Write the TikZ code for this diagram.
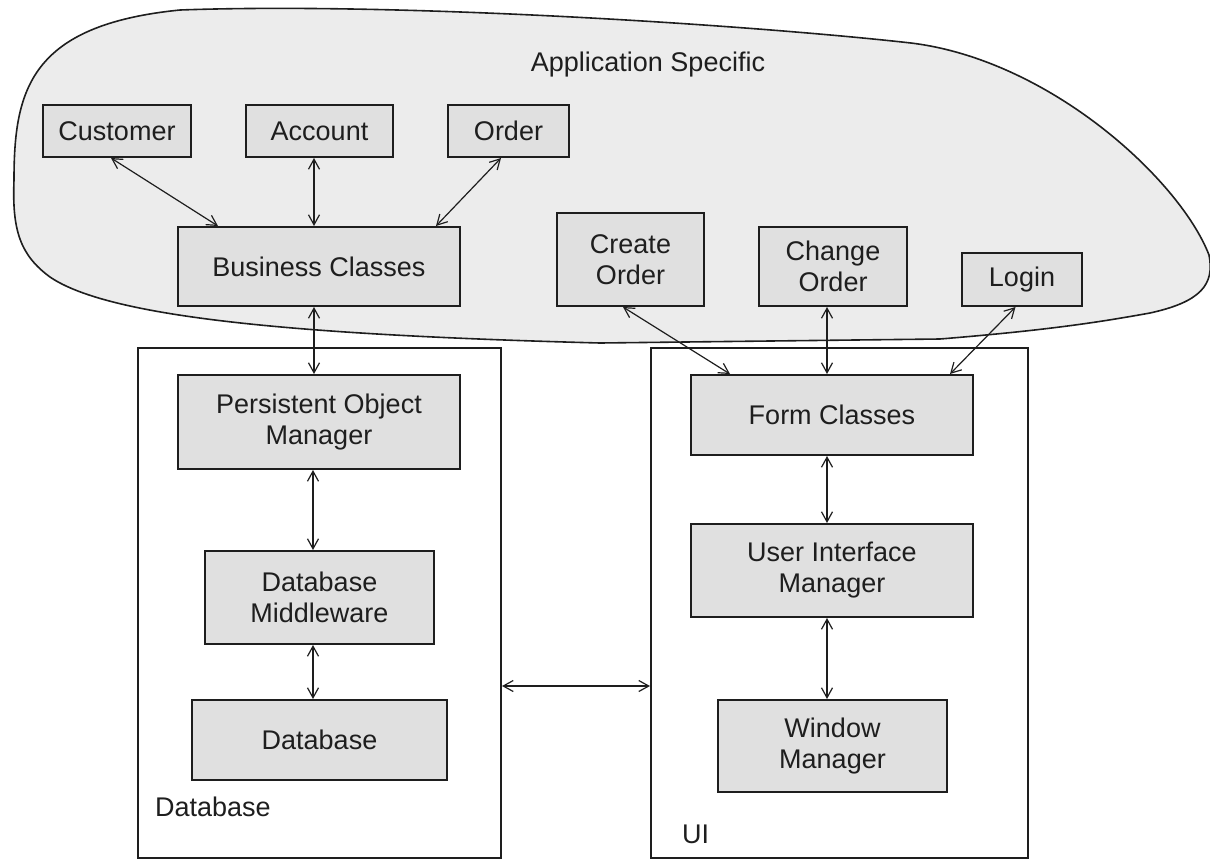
\documentclass[tikz,border=0pt]{standalone}
\usepackage{fontspec}
\setmainfont{Liberation Sans}
\usetikzlibrary{arrows.meta}
\definecolor{blobfill}{RGB}{236,236,236}
\definecolor{boxfill}{RGB}{224,224,224}
\definecolor{ink}{RGB}{30,30,30}
\begin{document}
\begin{tikzpicture}[x=1pt,y=-1pt,
  every node/.style={font=\fontsize{27}{31}\selectfont, text=ink},
  compbox/.style={draw=ink, line width=2pt, fill=boxfill, inner sep=0pt, align=center},
  container/.style={draw=ink, line width=2pt, inner sep=0pt},
  link/.style={draw=ink, line width=1.2pt, {Straight Barb[length=10pt,width=11pt]}-{Straight Barb[length=10pt,width=11pt]}},
  plain/.style={inner sep=0pt, anchor=west}
]
\useasboundingbox (0,0) rectangle (1210,860);
% application specific blob
\draw[draw=ink, line width=1.6pt, fill=blobfill]
  (14,180) .. controls (14,90) and (30,25) .. (180,10)
  .. controls (400,2) and (750,25) .. (911,43)
  .. controls (1050,60) and (1180,180) .. (1209,255)
  .. controls (1215,285) and (1200,302) .. (1150,313)
  .. controls (1100,322) and (1050,330) .. (940,339)
  -- (600,343)
  .. controls (300,335) and (110,318) .. (50,277)
  .. controls (20,255) and (12,230) .. cycle;
\node (apptitle) at (648,65) {Application Specific};

% containers
\node[container, minimum width=363pt, minimum height=510pt] (dbc) at (319.5,603) {};
\node[container, minimum width=377pt, minimum height=510pt] (uic) at (839.5,603) {};
\node[plain] (dblabel) at (155,807) {Database};
\node[plain] (uilabel) at (682,834) {UI};

% boxes
\node[compbox, minimum width=148pt, minimum height=52pt] (cust) at (117,131) {Customer};
\node[compbox, minimum width=147pt, minimum height=52pt] (acct) at (319.5,131) {Account};
\node[compbox, minimum width=121pt, minimum height=52pt] (order) at (508.5,131) {Order};
\node[compbox, minimum width=282pt, minimum height=79pt] (bus) at (319,266.5) {Business Classes};
\node[compbox, minimum width=147pt, minimum height=93pt] (create) at (630.5,259.5) {Create\\Order};
\node[compbox, minimum width=148pt, minimum height=79pt] (change) at (833,266.5) {Change\\Order};
\node[compbox, minimum width=120pt, minimum height=53pt] (login) at (1022,279.5) {Login};
\node[compbox, minimum width=282pt, minimum height=94pt] (pom) at (319,422) {Persistent Object\\Manager};
\node[compbox, minimum width=229pt, minimum height=93pt] (mid) at (319.5,597.5) {Database\\Middleware};
\node[compbox, minimum width=255pt, minimum height=80pt] (db) at (319.5,740) {Database};
\node[compbox, minimum width=282pt, minimum height=80pt] (form) at (832,415) {Form Classes};
\node[compbox, minimum width=282pt, minimum height=93pt] (uim) at (832,570.5) {User Interface\\Manager};
\node[compbox, minimum width=229pt, minimum height=92pt] (wm) at (832.5,746) {Window\\Manager};

% connectors
\draw[link] ([xshift=-6pt]cust.south) -- ([xshift=-101pt]bus.north);
\draw[link] ([xshift=-5.5pt]acct.south) -- ([xshift=-5pt]bus.north);
\draw[link] ([xshift=-7.5pt]order.south) -- ([xshift=117pt]bus.north);
\draw[link] ([xshift=-5pt]bus.south) -- ([xshift=-5pt]pom.north);
\draw[link] ([xshift=-6pt]pom.south) -- ([xshift=-6.5pt]mid.north);
\draw[link] ([xshift=-6.5pt]mid.south) -- ([xshift=-6.5pt]db.north);
\draw[link] ([xshift=-7.5pt]create.south) -- ([xshift=-102pt]form.north);
\draw[link] ([xshift=-6pt]change.south) -- ([xshift=-5pt]form.north);
\draw[link] ([xshift=-6.5pt]login.south) -- ([xshift=118pt]form.north);
\draw[link] ([xshift=-5pt]form.south) -- ([xshift=-5pt]uim.north);
\draw[link] ([xshift=-5pt]uim.south) -- ([xshift=-5.5pt]wm.north);
\coordinate (hlevel) at (0,686);
\draw[link] (dbc.east |- hlevel) -- (uic.west |- hlevel);
\end{tikzpicture}
\end{document}
